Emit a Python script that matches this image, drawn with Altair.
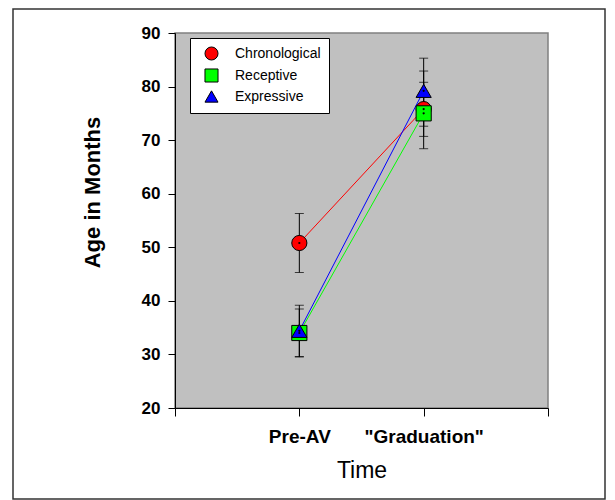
import altair as alt
import pandas as pd

series = ["Chronological", "Receptive", "Expressive"]
times = ["Pre-AV", '"Graduation"']
colors = ["#ff0000", "#00ff00", "#0000ff"]
shapes = ["circle", "square", "triangle-up"]

means = {
    "Chronological": [50.8, 75.8],
    "Receptive": [34.0, 75.0],
    "Expressive": [34.4, 79.2],
}
lows = {
    "Chronological": [45.3, 70.7],
    "Receptive": [29.5, 68.4],
    "Expressive": [29.6, 72.6],
}
highs = {
    "Chronological": [56.3, 80.8],
    "Receptive": [38.5, 82.9],
    "Expressive": [39.2, 85.3],
}

rows = []
for s in series:
    for i, t in enumerate(times):
        rows.append({"series": s, "time": t, "x": i + 1,
                     "mean": means[s][i], "lo": lows[s][i], "hi": highs[s][i]})
df = pd.DataFrame(rows)

label_expr = " : ".join(
    [f"datum.value == {i + 1} ? '{t}'" for i, t in enumerate(times)]
) + " : ''"

FONT = "Liberation Sans"

xenc = alt.X("x:Q", scale=alt.Scale(domain=[0, 3], nice=False),
             axis=alt.Axis(values=[0, 1, 2, 3], labelExpr=label_expr, title="Time",
                           grid=False, tickSize=8, tickColor="black", domainColor="black",
                           labelFont=FONT, labelFontSize=19, labelFontWeight="bold",
                           labelColor="black", labelPadding=11,
                           titleFont=FONT, titleFontSize=23, titleFontWeight="normal",
                           titleColor="black", titlePadding=13))
yenc = alt.Y("mean:Q", scale=alt.Scale(domain=[20, 90], nice=False),
             axis=alt.Axis(values=list(range(20, 91, 10)), title="Age in Months",
                           grid=False, tickSize=7, tickColor="black", domainColor="black",
                           labelFont=FONT, labelFontSize=17, labelFontWeight="bold",
                           labelColor="black", labelPadding=8,
                           titleFont=FONT, titleFontSize=22, titleFontWeight="bold",
                           titleColor="black", titleX=-83, titleY=159,
                           titleBaseline="middle", titleAlign="center", titleAngle=270))

color_scale = alt.Scale(domain=series, range=colors)
shape_scale = alt.Scale(domain=series, range=shapes)
outline_scale = alt.Scale(domain=series, range=["black", "black", "black"])

legend = alt.Legend(title=None, orient="none", legendX=15, legendY=5,
                    fillColor="white", strokeColor="black",
                    padding=8, symbolSize=170,
                    symbolStrokeWidth=1, symbolOpacity=1,
                    labelFont=FONT, labelFontSize=14, labelColor="black",
                    rowPadding=3, symbolOffset=6, labelOffset=16)

base = alt.Chart(df)

frame = base.mark_rect(fill=None, stroke="#333333", strokeWidth=1.5, clip=False).encode(
    x=alt.value(-162), x2=alt.value(430), y=alt.value(-24), y2=alt.value(466)
).transform_filter("datum.x == 1 && datum.series == 'Chronological'")

line_layers = [
    base.mark_line(strokeWidth=1, color=c).encode(x=xenc, y=yenc)
    .transform_filter(alt.datum.series == s)
    for s, c in zip(series, colors)
]

rules = base.mark_rule(color="black", strokeWidth=1).encode(
    x="x:Q", y="lo:Q", y2="hi:Q"
)
caps_lo = base.mark_tick(color="black", orient="horizontal", size=9, thickness=1).encode(
    x="x:Q", y="lo:Q"
)
caps_hi = base.mark_tick(color="black", orient="horizontal", size=9, thickness=1).encode(
    x="x:Q", y="hi:Q"
)

points = base.mark_point(filled=False, size=230, strokeWidth=1, opacity=1, fillOpacity=1).encode(
    x="x:Q", y="mean:Q",
    fill=alt.Fill("series:N", scale=color_scale, sort=series, legend=legend),
    shape=alt.Shape("series:N", scale=shape_scale, sort=series, legend=legend),
    stroke=alt.Stroke("series:N", scale=outline_scale, sort=series, legend=legend),
)
dots = base.mark_circle(color="black", size=5, opacity=1).encode(x="x:Q", y="mean:Q")

chart = alt.layer(frame, *line_layers, rules, caps_lo, caps_hi, points, dots).properties(
    width=373, height=375,
    padding={"left": 167, "top": 25, "right": 59, "bottom": 92},
    autosize=alt.AutoSizeParams(type="none"),
).configure_view(fill="#c0c0c0", stroke="#808080", strokeWidth=1.5)

chart.save("out.html", embed_options={"renderer": "svg", "actions": False})
